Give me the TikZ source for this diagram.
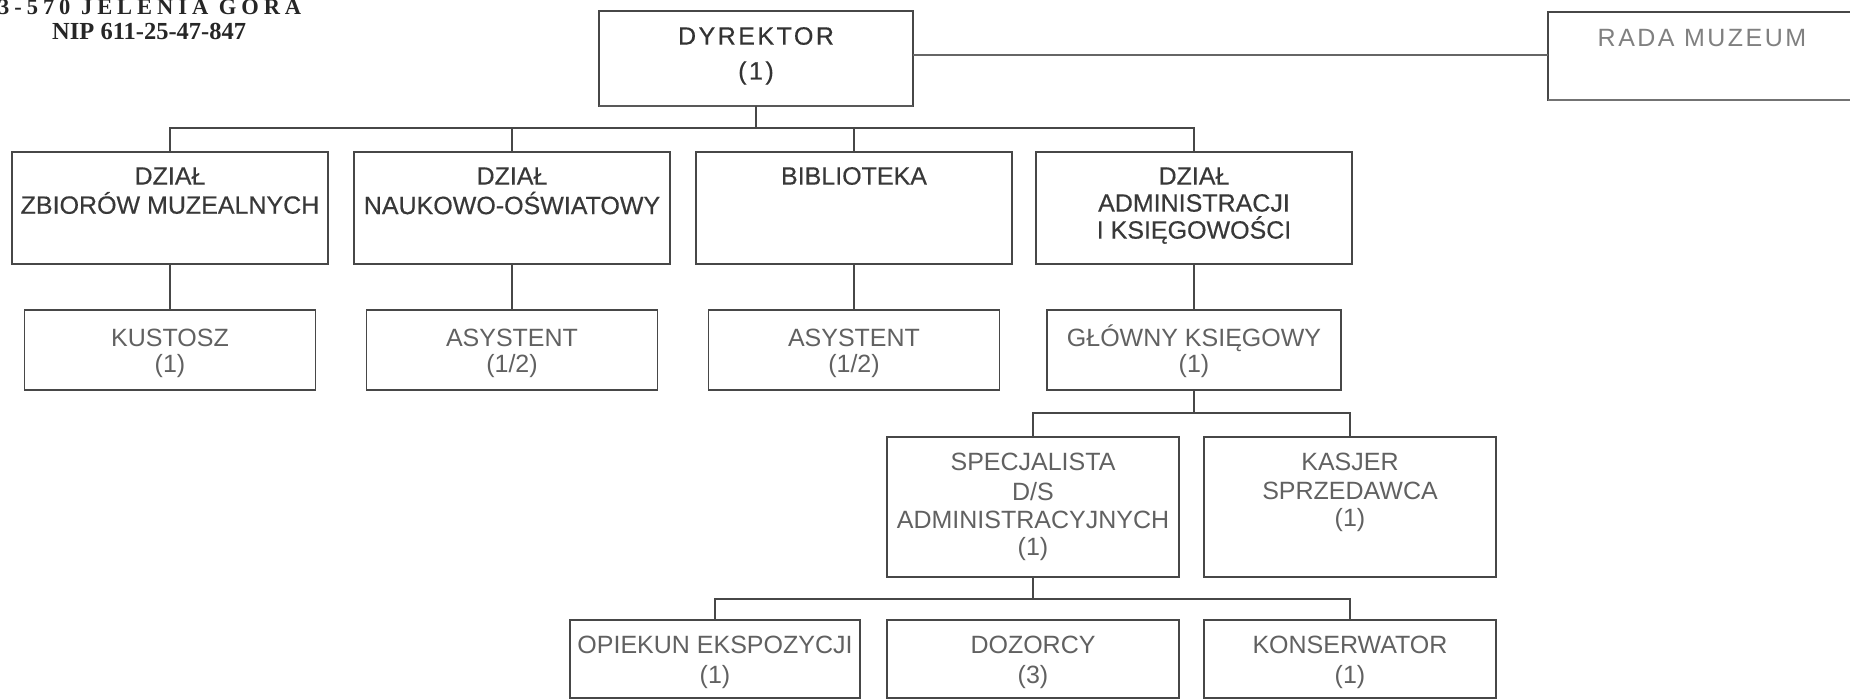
\documentclass[tikz,border=0pt]{standalone}
\usepackage{fontspec}
\setmainfont{Liberation Sans}
\newfontfamily\boldish[FakeBold=0.4]{Liberation Sans}
\newfontfamily\wide[LetterSpace=10,FakeBold=0.5]{Liberation Sans}
\newfontfamily\widelight[LetterSpace=10]{Liberation Sans}
\newfontfamily\hdr[LetterSpace=22]{Liberation Serif}
\newfontfamily\nipf{Liberation Serif}
\begin{document}
\begin{tikzpicture}[x=1pt,y=-1pt,
  box/.style={draw=black!72,line width=1.3pt,inner sep=0pt,outer sep=0pt,rectangle},
  txt/.style={inner sep=0pt,font=\boldish\fontsize{25}{29}\selectfont,text=black!78},
  ltxt/.style={inner sep=0pt,font=\fontsize{25}{29}\selectfont,text=black!62},
  wtxt/.style={inner sep=0pt,font=\wide\fontsize{25}{29}\selectfont,text=black!80},
  con/.style={draw=black!72,line width=1.2pt}]
\useasboundingbox (0,0) rectangle (1850,700);
\clip (0,0) rectangle (1850,700);
% header
\node[inner sep=0pt,anchor=base west,font=\hdr\bfseries\fontsize{22.5}{22}\selectfont,text=black!85] (h1) at (-2,15) {3-570 JELENIA GÓRA};
\node[inner sep=0pt,anchor=base west,font=\nipf\bfseries\fontsize{24.5}{24}\selectfont,text=black!85] (h2) at (52,40) {NIP 611-25-47-847};
% row 1
\node[box,minimum width=314pt,minimum height=95pt] (dir) at (756,58.5) {};
\node[box,minimum width=310pt,minimum height=88pt] (rada) at (1703,56) {};
\draw[line width=2pt,black!65] (dir.south west) -- (dir.south east);
\draw[line width=2pt,black!55] (rada.south west) -- (rada.south east);
\node[wtxt] (tdir1) at (756,36) {DYREKTOR};
\node[wtxt] (tdir2) at (756,73) {(1)};
\node[inner sep=0pt,font=\widelight\fontsize{25}{29}\selectfont,text=black!50] (trada) at (1702,38) {RADA MUZEUM};
\coordinate (dr) at (dir.east |- 0,55);
\draw[con,black!60] (dr) -- (dr -| rada.west);
% row 2
\node[box,minimum width=316pt,minimum height=112pt] (d1) at (170,208) {};
\node[box,minimum width=316pt,minimum height=112pt] (d2) at (512,208) {};
\node[box,minimum width=316pt,minimum height=112pt] (d3) at (854,208) {};
\node[box,minimum width=316pt,minimum height=112pt] (d4) at (1194,208) {};
\node[txt] (t1a) at (170,176) {DZIAŁ};
\node[txt] (t1b) at (170,203) {ZBIORÓW MUZEALNYCH};
\node[txt] (t2a) at (512,176) {DZIAŁ};
\node[txt] (t2b) at (512,203) {NAUKOWO-OŚWIATOWY};
\node[txt] (t3a) at (854,176) {BIBLIOTEKA};
\node[txt] (t4a) at (1194,176) {DZIAŁ};
\node[txt] (t4b) at (1194,203) {ADMINISTRACJI};
\node[txt] (t4c) at (1194,230) {I KSIĘGOWOŚCI};
\coordinate (b1) at (756,128);
\draw[con] (dir.south) -- (b1);
\draw[con] (d1.north) -- (d1.north |- b1) -- (d4.north |- b1) -- (d4.north);
\draw[con] (d2.north) -- (d2.north |- b1);
\draw[con] (d3.north) -- (d3.north |- b1);
% row 3
\node[box,minimum width=291pt,minimum height=80pt] (k1) at (170,350) {};
\node[box,minimum width=291pt,minimum height=80pt] (k2) at (512,350) {};
\node[box,minimum width=291pt,minimum height=80pt] (k3) at (854,350) {};
\node[box,minimum width=294pt,minimum height=80pt] (k4) at (1194,350) {};
\node[ltxt] (s1a) at (170,338) {KUSTOSZ};
\node[ltxt] (s1b) at (170,366) {(1)};
\node[ltxt] (s2a) at (512,338) {ASYSTENT};
\node[ltxt] (s2b) at (512,366) {(1/2)};
\node[ltxt] (s3a) at (854,338) {ASYSTENT};
\node[ltxt] (s3b) at (854,366) {(1/2)};
\node[ltxt] (s4a) at (1194,338) {GŁÓWNY KSIĘGOWY};
\node[ltxt] (s4b) at (1194,366) {(1)};
\draw[con] (d1.south) -- (k1.north);
\draw[con] (d2.south) -- (k2.north);
\draw[con] (d3.south) -- (k3.north);
\draw[con] (d4.south) -- (k4.north);
% row 4
\node[box,minimum width=292pt,minimum height=140pt] (sp) at (1033,507) {};
\node[box,minimum width=292pt,minimum height=140pt] (ka) at (1350,507) {};
\node[ltxt] (p1) at (1033,462) {SPECJALISTA};
\node[ltxt] (p2) at (1033,492) {D/S};
\node[ltxt] (p3) at (1033,520) {ADMINISTRACYJNYCH};
\node[ltxt] (p4) at (1033,549) {(1)};
\node[ltxt] (q1) at (1350,462) {KASJER};
\node[ltxt] (q2) at (1350,491) {SPRZEDAWCA};
\node[ltxt] (q3) at (1350,520) {(1)};
\coordinate (b2) at (1194,413);
\draw[con] (k4.south) -- (b2);
\draw[con] (sp.north) -- (sp.north |- b2) -- (ka.north |- b2) -- (ka.north);
% row 5
\node[box,minimum width=290pt,minimum height=78pt] (o1) at (715,659) {};
\node[box,minimum width=292pt,minimum height=78pt] (o2) at (1033,659) {};
\node[box,minimum width=292pt,minimum height=78pt] (o3) at (1350,659) {};
\node[ltxt] (r1a) at (715,645) {OPIEKUN EKSPOZYCJI};
\node[ltxt] (r1b) at (715,677) {(1)};
\node[ltxt] (r2a) at (1033,645) {DOZORCY};
\node[ltxt] (r2b) at (1033,677) {(3)};
\node[ltxt] (r3a) at (1350,645) {KONSERWATOR};
\node[ltxt] (r3b) at (1350,677) {(1)};
\coordinate (b3) at (1033,599);
\draw[con] (sp.south) -- (b3);
\draw[con] (o1.north) -- (o1.north |- b3) -- (o3.north |- b3) -- (o3.north);
\end{tikzpicture}
\end{document}
